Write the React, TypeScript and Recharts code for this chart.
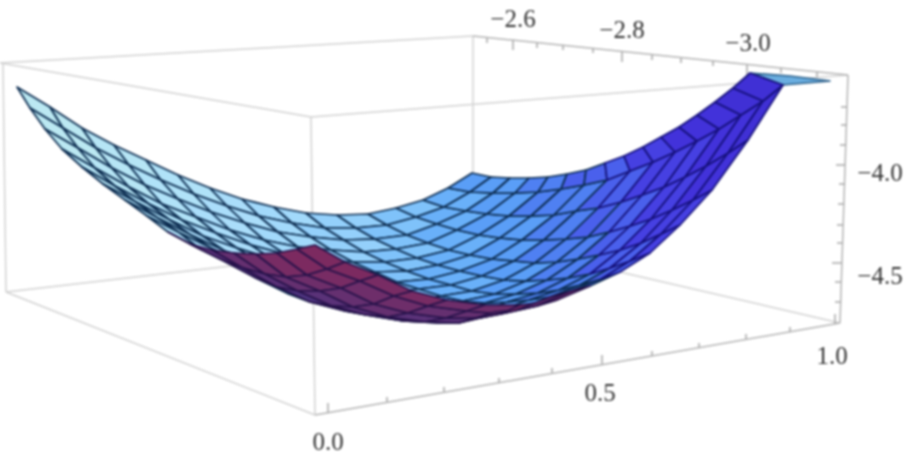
import { ScatterChart, Scatter, XAxis, YAxis, LabelList } from 'recharts';

// surface mesh: meshX[s][t], meshY[s][t]
const meshX = [
  [17, 30, 45, 62, 82, 103, 125, 147, 168, 190, 212, 234, 256, 277, 297, 315],
  [50, 63, 78, 95, 115, 136, 158, 180, 200, 222, 243, 265, 286, 307, 327, 345],
  [82, 96, 112, 129, 149, 170, 191, 213, 234, 256, 277, 298, 320, 341, 360, 378],
  [114, 129, 145, 162, 182, 203, 225, 246, 267, 289, 310, 332, 353, 374, 394, 412],
  [146, 161, 178, 196, 216, 237, 259, 281, 302, 323, 345, 366, 388, 408, 428, 447],
  [178, 194, 211, 230, 251, 272, 294, 316, 338, 360, 382, 403, 425, 446, 467, 485],
  [210, 227, 245, 264, 285, 306, 328, 351, 372, 394, 416, 438, 459, 480, 501, 520],
  [242, 259, 278, 298, 319, 341, 363, 386, 407, 430, 452, 473, 495, 517, 537, 557],
  [274, 292, 311, 331, 353, 375, 397, 419, 441, 463, 485, 507, 529, 550, 571, 590],
  [306, 325, 344, 364, 385, 407, 429, 451, 472, 495, 516, 538, 559, 580, 601, 620],
  [337, 356, 375, 396, 417, 438, 460, 482, 504, 526, 547, 568, 590, 610, 630, 650],
  [368, 387, 407, 428, 449, 470, 492, 514, 535, 557, 578, 599, 620, 641, 661, 680],
  [396, 416, 437, 457, 479, 500, 522, 544, 566, 588, 609, 630, 651, 672, 693, 712],
  [423, 444, 466, 487, 509, 531, 554, 576, 598, 621, 642, 664, 685, 706, 728, 748],
  [448, 470, 493, 515, 538, 561, 584, 607, 630, 653, 675, 697, 719, 741, 763, 783],
  [472, 491, 510, 529, 548, 567, 586, 605, 624, 643, 661, 679, 697, 715, 733, 750],
];
const meshY = [
  [87, 108, 129, 149, 167, 184, 200, 216, 232, 244, 250, 253, 254, 253, 249, 245],
  [107, 128, 148, 168, 186, 202, 218, 233, 249, 260, 268, 274, 277, 275, 269, 262],
  [128, 148, 168, 187, 204, 220, 235, 249, 264, 278, 287, 291, 291, 288, 281, 275],
  [145, 165, 185, 204, 220, 236, 251, 265, 281, 294, 302, 306, 307, 304, 296, 291],
  [160, 180, 199, 217, 233, 248, 262, 276, 291, 303, 311, 315, 317, 313, 306, 300],
  [175, 194, 212, 230, 245, 259, 273, 285, 299, 310, 317, 321, 322, 318, 311, 305],
  [188, 206, 223, 240, 254, 267, 279, 290, 303, 314, 320, 323, 323, 318, 314, 305],
  [199, 216, 232, 247, 260, 272, 283, 293, 302, 309, 313, 315, 312, 310, 306, 300],
  [207, 223, 237, 250, 262, 272, 282, 289, 296, 301, 303, 302, 300, 297, 291, 286],
  [213, 228, 240, 252, 262, 271, 279, 285, 291, 294, 294, 293, 290, 285, 279, 272],
  [215, 228, 239, 249, 258, 265, 271, 276, 280, 281, 280, 278, 274, 268, 261, 253],
  [214, 225, 235, 243, 250, 255, 259, 261, 263, 262, 259, 255, 250, 243, 234, 225],
  [208, 217, 224, 230, 235, 238, 240, 240, 239, 237, 232, 226, 219, 210, 200, 190],
  [200, 207, 211, 214, 216, 216, 215, 211, 208, 202, 195, 187, 177, 166, 153, 140],
  [188, 192, 193, 193, 192, 189, 185, 180, 171, 162, 152, 141, 129, 115, 101, 85],
  [173, 177, 178, 178, 177, 174, 170, 163, 156, 147, 137, 127, 115, 102, 88, 73],
];
// first t of each s column that shows the underside of the bowl
const undersideFrom = [8, 9, 10, 10, 11, 11, 12, 13, 99, 99, 99, 99, 99, 99, 99];

const tailX = [750, 790, 830, 783];
const tailY = [73, 76, 81, 85];

const boxEdges = [
  [[0, 63], [473, 36]],
  [[0, 63], [311, 117]],
  [[311, 117], [848, 75]],
  [[3, 63], [6, 292]],
  [[6, 292], [315, 415]],
  [[6, 292], [473, 238]],
  [[473, 238], [840, 323]],
  [[311, 117], [315, 415]],
  [[473, 36], [473, 238]],
];
const axisEdges = [
  [[473, 36], [848, 75]],
  [[848, 75], [840, 323]],
  [[315, 415], [840, 323]],
];

const topTickX = [487, 513, 537, 563, 593, 622, 652, 681, 713, 747, 781, 817];
const topTickY = [38, 40, 43, 45, 48, 52, 55, 58, 61, 65, 68, 72];
const topTickEnd = [43, 50, 48, 50, 53, 62, 60, 63, 66, 75, 73, 77];

const sideTickY = [107, 125, 145, 165, 184, 204, 225, 243, 263, 282, 302];
const sideTickX = [847, 847, 846, 845, 845, 844, 843, 843, 842, 841, 841];
const sideTickEnd = [841, 841, 840, 836, 839, 838, 837, 837, 832, 835, 835];

const baseTickX = [328, 387, 444, 499, 552, 602, 652, 699, 746, 790, 835];
const baseTickY = [413, 402, 392, 383, 373, 365, 356, 348, 339, 332, 324];
const baseTickEnd = [403, 397, 387, 378, 368, 355, 351, 343, 334, 327, 314];

const tickLabels = [
  { x: 513, y: 18, label: '\u22122.6' },
  { x: 622, y: 29, label: '\u22122.8' },
  { x: 748, y: 42, label: '\u22123.0' },
  { x: 880, y: 172, label: '\u22124.0' },
  { x: 880, y: 275, label: '\u22124.5' },
  { x: 328, y: 441, label: '0.0' },
  { x: 600, y: 392, label: '0.5' },
  { x: 832, y: 355, label: '1.0' },
];

const topShades = [
  '#bbe8f2', '#b6e5f5', '#b0e2f8', '#aaddfa', '#a2d9fb', '#94d0fb', '#7fc2fa',
  '#69b0f9', '#5a9ef7', '#4f80f2', '#4a60ec', '#4640e2', '#4232da', '#4030d5',
];
const undersideShades = ['#4f3580', '#5a3278', '#653070', '#6e2e6a', '#782c64', '#7c2a60'];

const NoDot = () => <g />;

const polygonLine = (fill: string, stroke: string) => (p: any) => (
  <polygon
    points={p.points.map((q: any) => `${q.x},${q.y}`).join(' ')}
    fill={fill}
    stroke={stroke}
    strokeWidth={1.7}
    strokeLinejoin="round"
  />
);

const cell = (s: number, t: number) => [
  { x: meshX[s][t], y: meshY[s][t] },
  { x: meshX[s + 1][t], y: meshY[s + 1][t] },
  { x: meshX[s + 1][t + 1], y: meshY[s + 1][t + 1] },
  { x: meshX[s][t + 1], y: meshY[s][t + 1] },
];

const topCells: { s: number; t: number }[] = [];
const underCells: { s: number; t: number }[] = [];
for (let s = 0; s < 15; s++) {
  for (let t = 0; t < 15; t++) {
    if (t >= undersideFrom[s]) underCells.push({ s, t });
    else topCells.push({ s, t });
  }
}

const shadeLevel = (s: number, t: number) => 1.15 * s + 0.8 * t;
const topFill = (s: number, t: number) =>
  topShades[Math.min(topShades.length - 1, Math.floor(shadeLevel(s, t) / 2))];
const underFill = (s: number, t: number) =>
  undersideShades[Math.min(undersideShades.length - 1, Math.max(0, t - undersideFrom[s] + (s > 5 ? 2 : 0)))];

const segment = (key: string, a: number[], b: number[], stroke: string) => (
  <Scatter
    key={key}
    data={[{ x: a[0], y: a[1] }, { x: b[0], y: b[1] }]}
    line={{ stroke, strokeWidth: 1.5 }}
    shape={NoDot}
    isAnimationActive={false}
  />
);

export default function App() {
  return (
    <div style={{ position: 'absolute', left: 0, top: 0, width: 913, height: 458, filter: 'blur(0.8px)' }}>
      <ScatterChart width={913} height={458} margin={{ top: 0, right: 0, bottom: 0, left: 0 }}>
        <XAxis type="number" dataKey="x" domain={[0, 913]} hide />
        <YAxis type="number" dataKey="y" domain={[0, 458]} reversed hide />

        {boxEdges.map((e, i) => segment(`box${i}`, e[0], e[1], '#d2d2d2'))}
        {axisEdges.map((e, i) => segment(`axis${i}`, e[0], e[1], '#b4b4b4'))}
        {topTickX.map((x, i) => segment(`tt${i}`, [x, topTickY[i]], [x, topTickEnd[i]], '#a8a8a8'))}
        {sideTickY.map((y, i) => segment(`st${i}`, [sideTickX[i], y], [sideTickEnd[i], y], '#a8a8a8'))}
        {baseTickX.map((x, i) => segment(`bt${i}`, [x, baseTickY[i]], [x, baseTickEnd[i]], '#a8a8a8'))}

        <Scatter
          data={tailX.map((x, i) => ({ x, y: tailY[i] }))}
          line={polygonLine('#6aaee0', '#2a5f8a')}
          shape={NoDot}
          isAnimationActive={false}
        />
        {topCells.map(({ s, t }) => (
          <Scatter
            key={`top${s}-${t}`}
            data={cell(s, t)}
            line={polygonLine(topFill(s, t), shadeLevel(s, t) > 21 ? '#15107a' : '#0c2c50')}
            shape={NoDot}
            isAnimationActive={false}
          />
        ))}
        {underCells.map(({ s, t }) => (
          <Scatter
            key={`under${s}-${t}`}
            data={cell(s, t)}
            line={polygonLine(underFill(s, t), '#26124a')}
            shape={NoDot}
            isAnimationActive={false}
          />
        ))}

        <Scatter data={tickLabels} shape={NoDot} isAnimationActive={false}>
          <LabelList
            dataKey="label"
            position="center"
            fill="#333333"
            fontSize={25}
            fontFamily="'Liberation Serif', serif"
          />
        </Scatter>
      </ScatterChart>
    </div>
  );
}
